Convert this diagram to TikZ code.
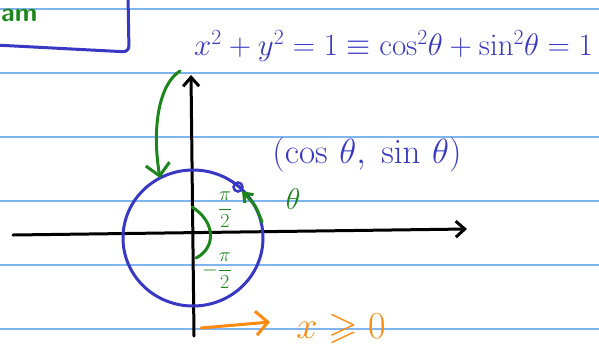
\documentclass[tikz,border=0pt]{standalone}
\usepackage{fix-cm}
\usepackage{amsmath}
\usepackage{amssymb}
\usetikzlibrary{arrows.meta, calc}
\definecolor{inkBlue}{HTML}{3838C4}
\definecolor{inkGreen}{HTML}{1C861C}
\definecolor{inkOrange}{HTML}{FF8A10}
\definecolor{ruleBlue}{HTML}{7FB4EE}
\tikzset{
  ruled/.style={ruleBlue, line width=1.2pt},
  penblue/.style={inkBlue, line width=3pt, line cap=round, line join=round},
  pengreen/.style={inkGreen, line width=3pt, line cap=round, line join=round},
  penorange/.style={inkOrange, line width=3pt, line cap=round, line join=round},
  axisline/.style={black, line width=3pt, line cap=round,
                   -{Straight Barb[length=9pt, width=16pt, line width=3pt]}},
  pentip/.style={-{Straight Barb[length=12pt, width=24pt, line width=3pt]}},
  inktext/.style={inner sep=0pt, font=\fontsize{#1}{#1}\selectfont},
  inktext/.default=24,
}

\begin{document}
\begin{tikzpicture}[x=1pt, y=-1pt]
  \useasboundingbox (0,0) rectangle (599,351);
  % Ruled paper
  \foreach \ry in {9,73,137,201,265,329}
    \draw[ruled] (0,\ry) -- (599,\ry);
  % Box in the corner
  \coordinate (boxtop) at (128,-5);
  \coordinate (boxcorner) at (129,52);
  \coordinate (boxleft) at (-5,45);
  \draw[penblue, rounded corners=6pt] (boxtop) -- (boxcorner) -- (boxleft);
  \node[inktext=26, text=inkGreen, anchor=west] (corner) at (1,15) {\textsf{\textbf{am}}};
  % Identity
  \node[inktext=31, text=inkBlue, anchor=west] (identity) at (194,46)
    {$x^2+y^2=1 \equiv \cos^2\!\theta+\sin^2\!\theta=1$};
  % Axes
  \coordinate (xleft) at (13,235);
  \coordinate (xright) at (467,229);
  \coordinate (ybottom) at (194,336);
  \coordinate (ytop) at (191,75);
  \draw[axisline] (xleft) -- (xright);
  \draw[axisline] (ybottom) -- (ytop);
  % Unit circle
  \coordinate (centre) at (193,238);
  \draw[penblue] (centre) ellipse [x radius=70, y radius=68];
  \node[circle, draw=inkBlue, line width=2.5pt, minimum size=9pt, inner sep=0pt] (point) at (238,187) {};
  \node[inktext=35, text=inkBlue] (coords) at (367,155) {$(\cos\,\theta,\;\sin\,\theta)$};
  % Angle
  \node[inktext=30, text=inkGreen] (theta) at (293,199) {$\theta$};
  \coordinate (arcstart) at (262,222);
  \draw[pengreen, -{Straight Barb[length=8pt, width=12pt, line width=3pt]}]
    (arcstart) .. controls (256,206) .. (point);
  \node[inktext=20, text=inkGreen] (halfpi) at (225,210) {$\dfrac{\pi}{2}$};
  \node[inktext=20, text=inkGreen] (neghalfpi) at (217,271) {$-\dfrac{\pi}{2}$};
  \coordinate (bracetop) at (192,207);
  \coordinate (bracebottom) at (196,258);
  \draw[pengreen] (bracetop) .. controls (216,222) and (216,248) .. (bracebottom);
  % Green arrow onto the circle
  \coordinate (swingstart) at (180,71);
  \coordinate (swingend) at (160,178);
  \draw[pengreen, pentip] (swingstart) .. controls (158,85) and (152,130) .. (swingend);
  % Right half
  \coordinate (halfstart) at (201,328);
  \coordinate (halfend) at (270,322);
  \draw[penorange, pentip] (halfstart) -- (halfend);
  \node[inktext=38, text=inkOrange] (condition) at (341,329) {$x \geqslant 0$};
\end{tikzpicture}
\end{document}
